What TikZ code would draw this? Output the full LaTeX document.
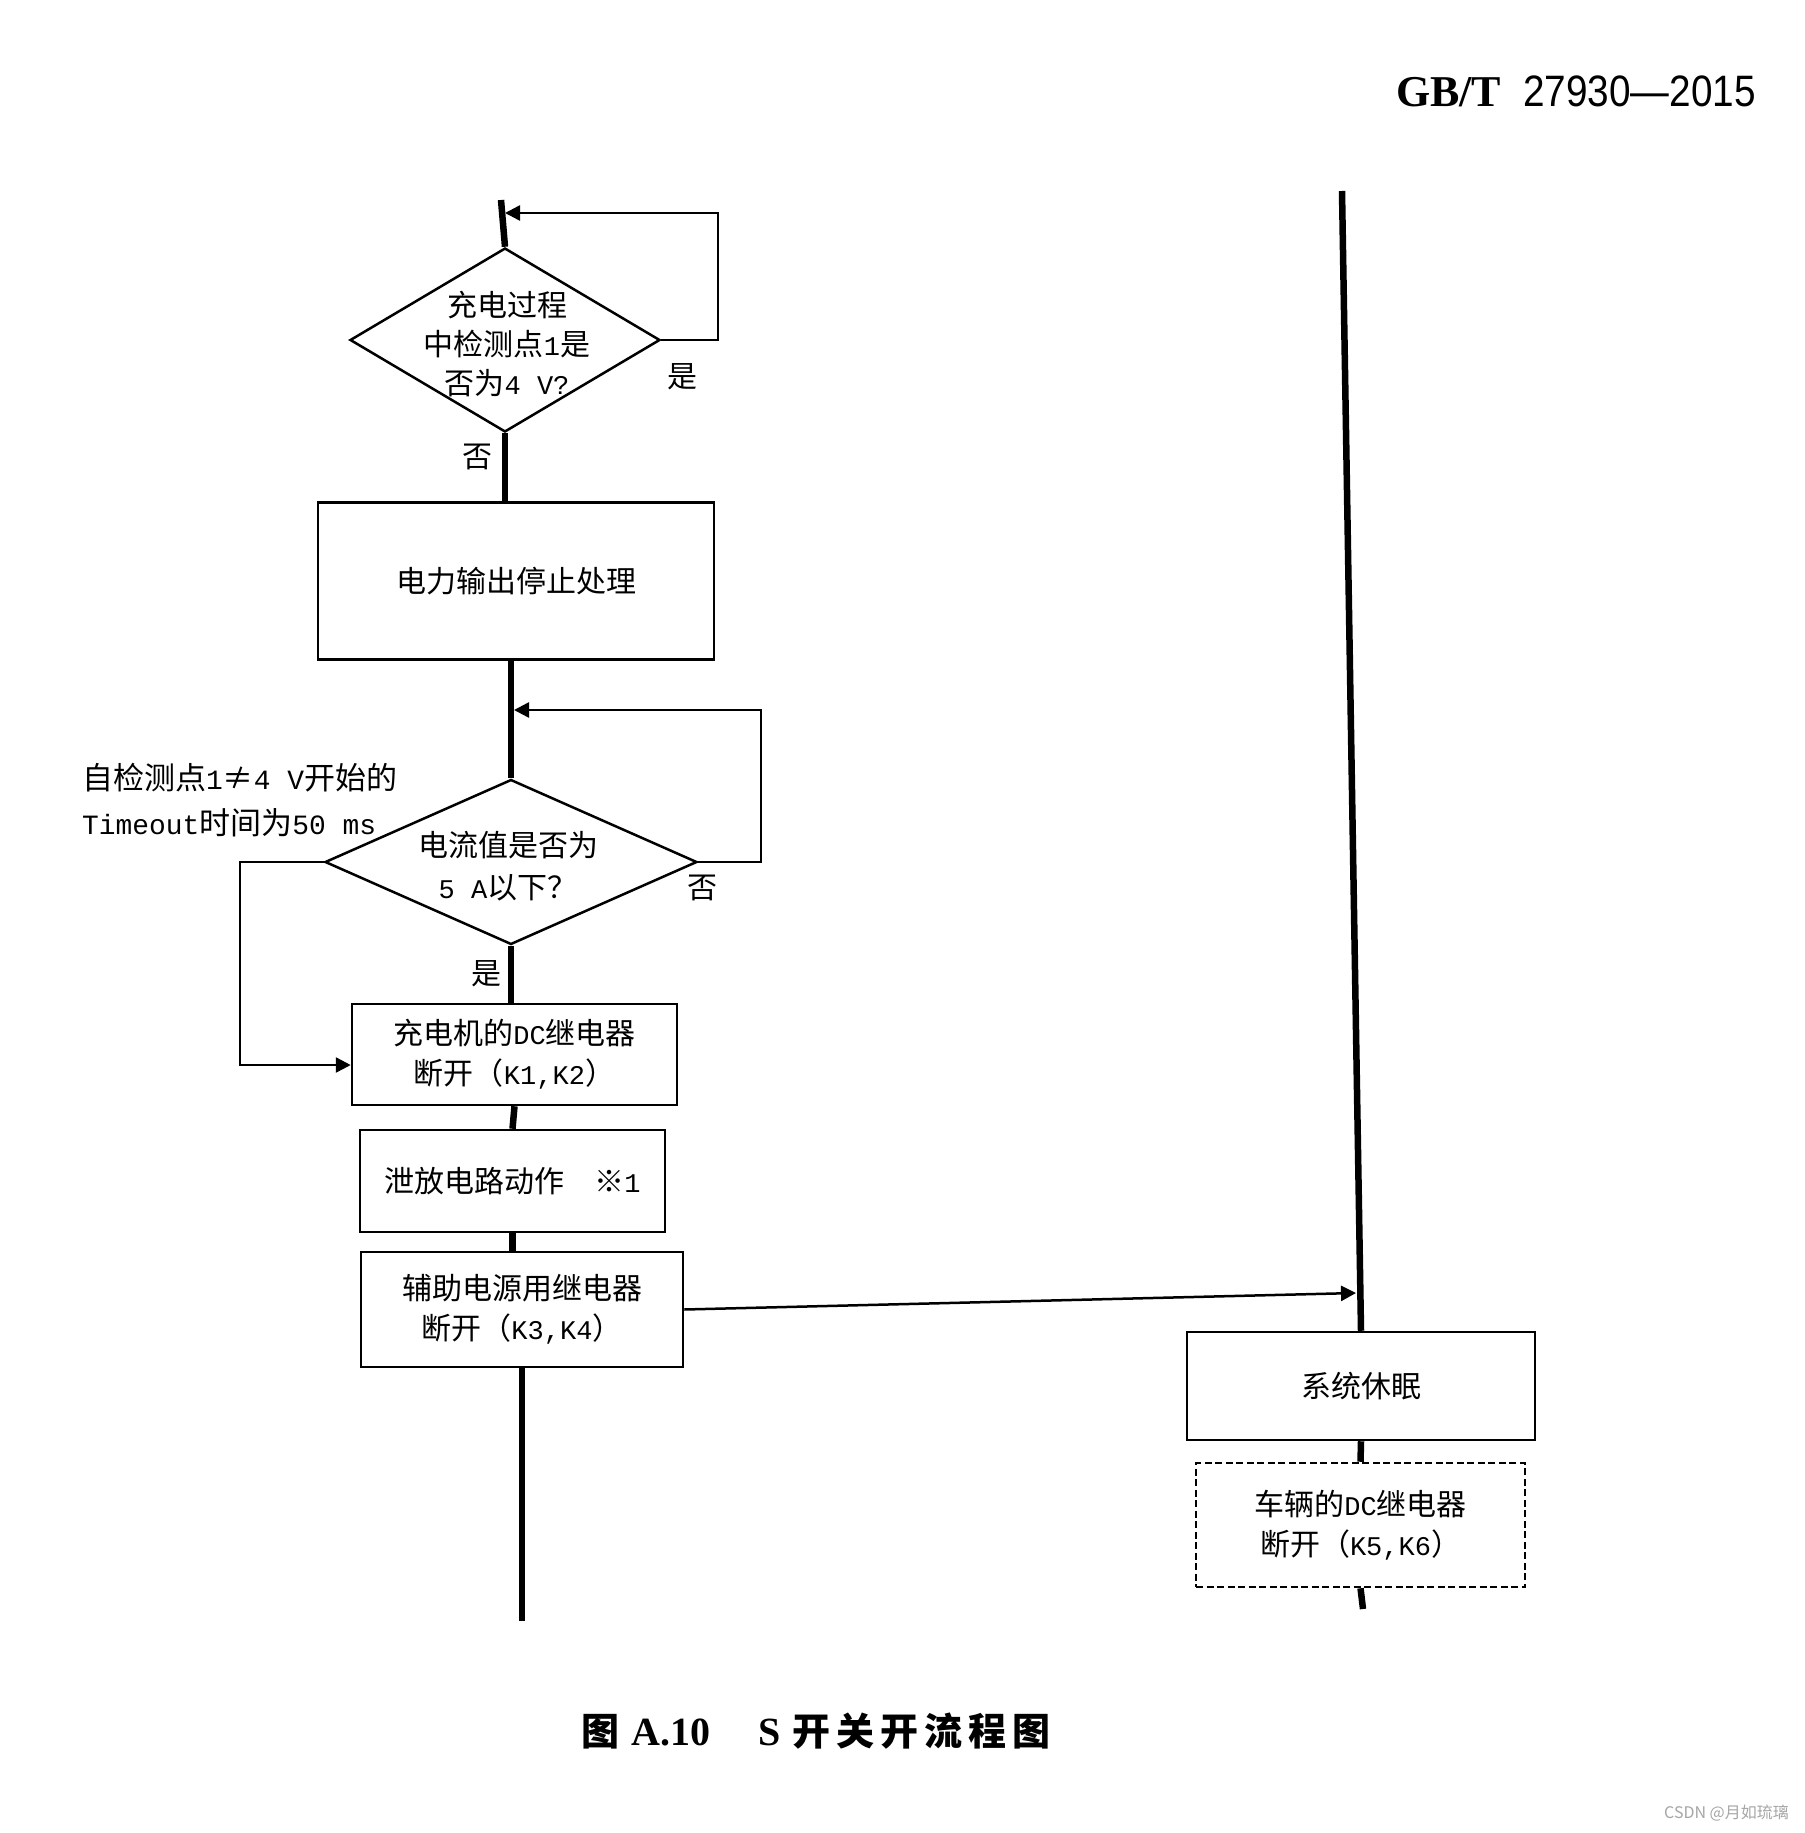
\documentclass[tikz,border=0pt]{standalone}
\usepackage{fontspec}
\setmainfont{Liberation Serif}
\newfontfamily\cjk{Noto Sans CJK SC}
\newfontfamily\cjkcap{Noto Sans CJK SC}[LetterSpace=16]
\newfontfamily\asciifont{Liberation Mono}[Scale=0.9]
\newfontfamily\hdrfont{Liberation Sans}[FakeStretch=0.88]
\newcommand{\asc}[1]{{\asciifont #1}}
\usetikzlibrary{shapes.geometric,arrows.meta}

\begin{document}
\begin{tikzpicture}[x=1pt,y=-1pt,
    box/.style={draw, line width=2.5pt, inner sep=0pt, align=center, font=\cjk\fontsize{30}{40}\selectfont},
    dbox/.style={box, dash pattern=on 7pt off 3.5pt},
    decision/.style={draw, diamond, line width=2.5pt, inner sep=0pt},
    txt/.style={inner sep=0pt, align=center, font=\cjk\fontsize{30}{39}\selectfont},
    yn/.style={inner sep=0pt, font=\cjk\fontsize{30}{36}\selectfont},
    mainline/.style={line width=6.5pt},
    flow/.style={line width=2.5pt, -{Triangle[length=15pt,width=15pt]}}]
    \path[use as bounding box, fill=white] (0,0) rectangle (1804,1833);

    \node[anchor=base east, inner sep=0pt] (hdr) at (1756,107) {{\fontsize{44}{48}\selectfont\bfseries GB/T}\hspace{22pt}{\hdrfont\fontsize{44}{48}\selectfont 27930—2015}};

    \coordinate (top1) at (501,200);
    \node[decision, minimum width=310pt, minimum height=184pt] (d1) at (505,340) {};
    \node[txt] (d1t) at (507,344) {充电过程\\中检测点\asc{1}是\\否为\asc{4 V?}};
    \node[box, minimum width=396pt, minimum height=157pt] (b1) at (516,581) {电力输出停止处理};
    \node[decision, minimum width=372pt, minimum height=165pt] (d2) at (511,862) {};
    \node[txt, font=\cjk\fontsize{30}{42}\selectfont] (d2t) at (508,866) {电流值是否为\\\asc{5 A}以下？};
    \node[box, minimum width=325pt, minimum height=101pt] (b2) at (514.5,1054.5) {充电机的\asc{DC}继电器\\断开（\asc{K1,K2}）};
    \node[box, minimum width=305pt, minimum height=102pt] (b3) at (512.5,1181) {泄放电路动作\hspace{1em}※\asc{1}};
    \node[box, minimum width=322pt, minimum height=115pt] (b4) at (522,1309.5) {辅助电源用继电器\\断开（\asc{K3,K4}）};
    \coordinate (lbot) at (522,1621);

    \node[yn] (y1) at (682,377) {是};
    \node[yn] (n1) at (477,457) {否};
    \node[yn] (n2) at (702,888) {否};
    \node[yn] (y2) at (486,974) {是};
    \node[anchor=west, inner sep=0pt, align=left, font=\cjk\fontsize{31}{45}\selectfont] (note) at (82,800) {自检测点\asc{1}≠\asc{4 V}开始的\\\asc{Timeout}时间为\asc{50 ms}};

    \draw[mainline] (top1) -- (d1.north);
    \draw[mainline] (d1.south) -- (d1.south |- b1.north);
    \draw[mainline] (d2.north |- b1.south) -- (d2.north);
    \draw[mainline] (d2.south) -- (d2.south |- b2.north);
    \draw[mainline] (b2.south) -- (b3.north);
    \draw[mainline] (b3.south) -- (b3.south |- b4.north);
    \draw[mainline] (b4.south) -- (lbot);

    \coordinate (l1) at (718,213);
    \coordinate (m1) at (505,213);
    \draw[flow] (d1.east) -| (l1) -- (m1);
    \coordinate (l2) at (761,710);
    \coordinate (m2) at (514,710);
    \draw[flow] (d2.east) -| (l2) -- (m2);
    \coordinate (l3) at (240,1065);
    \draw[flow] (d2.west) -| (l3) -- (b2.west |- l3);

    \coordinate (rtop) at (1342,191);
    \node[box, minimum width=348pt, minimum height=108pt] (b5) at (1361,1386) {系统休眠};
    \node[dbox, minimum width=329pt, minimum height=124pt] (b6) at (1360.5,1525) {车辆的\asc{DC}继电器\\断开（\asc{K5,K6}）};
    \coordinate (rbot) at (1363,1609);
    \draw[mainline] (rtop) -- (b5.north);
    \draw[mainline] (b5.south) -- (b6.north);
    \draw[mainline] (b6.south) -- (rbot);

    \coordinate (r4) at (1356,1293);
    \draw[flow] (b4.east) -- (r4);

    \node[anchor=base west, inner sep=0pt] (cap) at (581,1745) {{\cjkcap\fontsize{38}{40}\selectfont\bfseries 图}\hspace{12pt}{\fontsize{40}{44}\selectfont\bfseries A.10}\hspace{48pt}{\fontsize{40}{44}\selectfont\bfseries S}\hspace{12pt}{\cjkcap\fontsize{38}{40}\selectfont\bfseries 开关开流程图}};
    \node[anchor=east, inner sep=0pt, text=gray!70, font=\cjk\fontsize{16}{18}\selectfont] (wm) at (1789,1813) {CSDN @月如琉璃};
\end{tikzpicture}
\end{document}
